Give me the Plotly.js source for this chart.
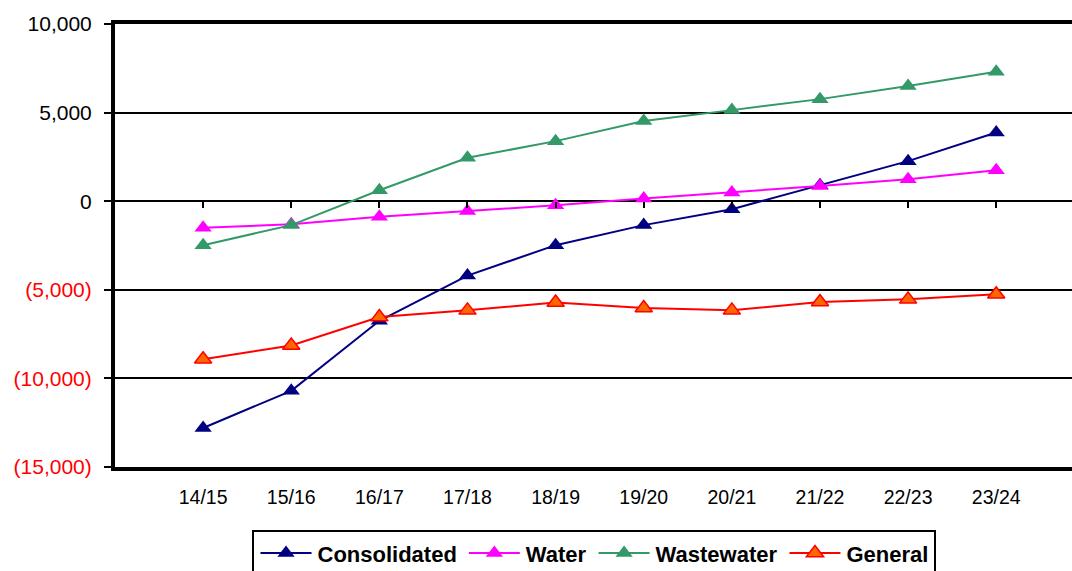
<!DOCTYPE html>
<html>
<head>
<meta charset="utf-8">
<script src="https://cdn.plot.ly/plotly-3.0.1.min.js"></script>
<style>html,body{margin:0;padding:0;background:#fff;}#chart{width:1072px;height:571px;}</style>
</head>
<body>
<div id="chart"></div>
<script>
const categories = ["14/15","15/16","16/17","17/18","18/19","19/20","20/21","21/22","22/23","23/24"];
const consolidated = [-12800,-10700,-6750,-4200,-2480,-1350,-450,900,2260,3880];
const water = [-1500,-1300,-880,-560,-230,150,490,860,1240,1750];
const wastewater = [-2480,-1350,620,2450,3390,4520,5140,5760,6500,7300];
const general = [-8920,-8140,-6540,-6160,-5720,-6030,-6160,-5690,-5540,-5250];
const yTickVals = [10000,5000,0,-5000,-10000,-15000];
const yTickText = ["10,000","5,000","0",
  '<span style="color:#FF0000">(5,000)</span>',
  '<span style="color:#FF0000">(10,000)</span>',
  '<span style="color:#FF0000">(15,000)</span>'];

function tr(name, y, line, fill, outline){
  return {type:'scatter', mode:'lines+markers', name:name, x:categories, y:y,
    line:{color:line, width:2},
    marker:{symbol:'triangle-up', size:15, color:fill, line:{color:outline, width:outline===fill?0:1.5}}};
}
const data = [
  tr('Consolidated', consolidated, '#000080', '#000080', '#000080'),
  tr('Water', water, '#FF00FF', '#FF00FF', '#FF00FF'),
  tr('Wastewater', wastewater, '#339966', '#339966', '#339966'),
  tr('General', general, '#FF0000', '#FF6600', '#FF0000')
];

const layout = {
  width:1072, height:571,
  margin:{l:115, r:0, t:24, b:104, autoexpand:false},
  paper_bgcolor:'#fff', plot_bgcolor:'#fff',
  font:{family:'Arial, "Liberation Sans", sans-serif', color:'#000'},
  showlegend:true,
  legend:{orientation:'h', x:0.5, xanchor:'center', y:-0.1425, yanchor:'top',
    bordercolor:'#000', borderwidth:2, font:{size:22, family:'Arial, "Liberation Sans", sans-serif', weight:'bold'},
    itemwidth:54, tracegroupgap:0},
  xaxis:{type:'category', categoryorder:'array', categoryarray:categories,
    range:[-1, 9.86], showgrid:false, zeroline:false,
    showline:true, linecolor:'#000', linewidth:4, mirror:true,
    ticks:'outside', ticklen:10, tickcolor:'rgba(0,0,0,0)',
    tickfont:{size:19.5}},
  xaxis2:{type:'category', categoryorder:'array', categoryarray:categories,
    range:[-1, 9.86], overlaying:'x', anchor:'free', position:0.6, side:'bottom',
    showgrid:false, zeroline:false, showline:false, showticklabels:false,
    ticks:'outside', ticklen:6, tickwidth:2, tickcolor:'#000'},
  yaxis:{range:[-15000,10000], tickvals:yTickVals, ticktext:yTickText,
    showgrid:true, gridcolor:'#000', gridwidth:2,
    zeroline:true, zerolinecolor:'#000', zerolinewidth:2,
    showline:true, linecolor:'#000', linewidth:4, mirror:true,
    ticks:'outside', ticklen:7, tickwidth:2, tickcolor:'#000',
    ticklabelstandoff:8,
    tickfont:{size:21}}
};
data.push({type:'scatter', x:categories, y:water, xaxis:'x2', mode:'none', showlegend:false, hoverinfo:'skip'});
Plotly.newPlot('chart', data, layout, {displayModeBar:false, staticPlot:true}).then(function(){
  document.querySelectorAll('.legend .legendlines path').forEach(function(p){ p.setAttribute('d','M7,0h51'); });
  document.querySelectorAll('.legend .legendsymbols path').forEach(function(p){ p.setAttribute('transform','translate(32.5,0)'); });
});
</script>
</body>
</html>
